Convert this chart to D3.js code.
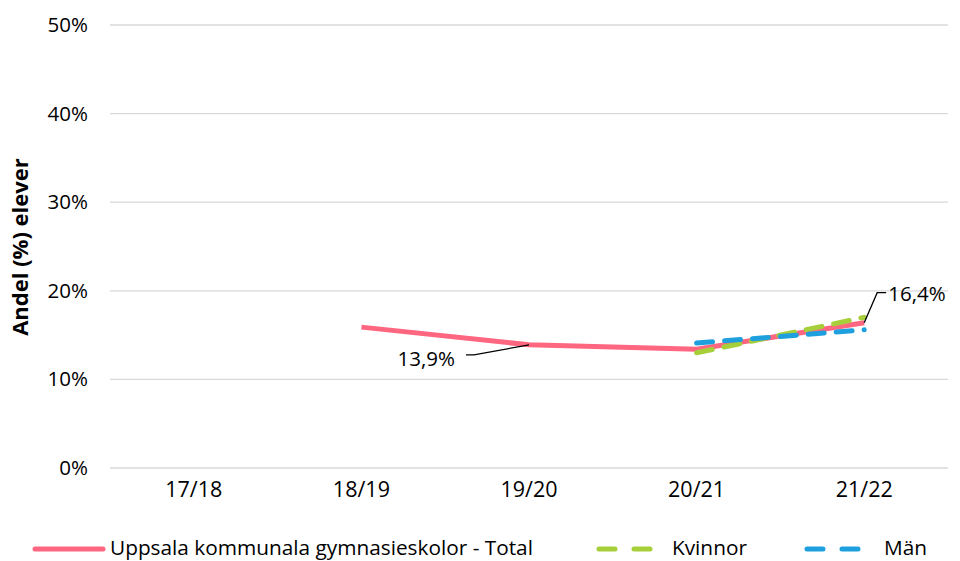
<!DOCTYPE html>
<html><head><meta charset="utf-8">
<script src="https://cdn.jsdelivr.net/npm/d3@7"></script>
<style>body{margin:0;background:#fff}svg{display:block}svg text{font-family:"Open Sans","Noto Sans",sans-serif}</style>
</head><body><svg id="c" width="960" height="561"></svg>
<script>
const categories = ["17/18","18/19","19/20","20/21","21/22"];
const totalValues = [null, 15.9, 13.9, 13.4, 16.4];
const kvinnorValues = [null, null, null, 13.0, 17.0];
const manValues = [null, null, null, 14.1, 15.6];
const yTicks = [0,10,20,30,40,50];
const seriesNames = ["Uppsala kommunala gymnasieskolor - Total","Kvinnor","Män"];

const FONT = '"Open Sans","Noto Sans",sans-serif';
const svg = d3.select("#c");
const m = {l:110, r:948, t:25, b:468};
const x = d3.scaleBand().domain(categories).range([m.l, m.r]);
const y = d3.scaleLinear().domain([0,50]).range([m.b, m.t]);
const cx = c => x(c) + x.bandwidth()/2;

// gridlines
svg.append("g").selectAll("line").data(yTicks).join("line")
  .attr("x1", m.l).attr("x2", m.r).attr("y1", d=>y(d)).attr("y2", d=>y(d))
  .attr("stroke", "#d9d9d9").attr("stroke-width", 1.3);

// y axis
const ya = svg.append("g").attr("transform", `translate(${m.l},0)`)
  .call(d3.axisLeft(y).tickValues(yTicks).tickFormat(d=>d+"%").tickSize(0).tickPadding(22));
ya.select(".domain").remove();
ya.attr("font-family", FONT).attr("font-size", 20.5);
ya.selectAll("text").attr("fill", "#000");

// x axis
const xa = svg.append("g").attr("transform", `translate(0,${m.b})`)
  .call(d3.axisBottom(x).tickSize(0).tickPadding(14));
xa.select(".domain").remove();
xa.attr("font-family", FONT).attr("font-size", 21.5);
xa.selectAll("text").attr("fill", "#000");

// y title
svg.append("text").attr("transform", `translate(28,247) rotate(-90)`)
  .attr("text-anchor", "middle").attr("font-weight", "bold").attr("font-size", 22)
  .text("Andel (%) elever");

const line = d3.line().defined(d=>d.v!=null).x(d=>cx(d.c)).y(d=>y(d.v));
const toPts = arr => categories.map((c,i)=>({c, v:arr[i]}));

svg.append("path").datum(toPts(totalValues)).attr("d", line)
  .attr("fill","none").attr("stroke","#ff6680").attr("stroke-width",5).attr("stroke-linejoin","round");
svg.append("path").datum(toPts(kvinnorValues)).attr("d", line)
  .attr("fill","none").attr("stroke","#a6cf3a").attr("stroke-width",5).attr("stroke-dasharray","16 12").attr("stroke-linecap","round");
svg.append("path").datum(toPts(manValues)).attr("d", line)
  .attr("fill","none").attr("stroke","#1fa0de").attr("stroke-width",5).attr("stroke-dasharray","16 12").attr("stroke-linecap","round");

// data labels
const fmt = v => d3.format(".1f")(v).replace(".", ",") + "%";
const p1 = {x: cx("19/20"), y: y(totalValues[2])};
svg.append("polyline").attr("points", `${p1.x},${p1.y} ${p1.x-55},${p1.y+10} ${p1.x-63},${p1.y+10}`)
  .attr("fill","none").attr("stroke","#000").attr("stroke-width",1.3);
svg.append("text").attr("x", p1.x-74).attr("y", p1.y+21).attr("text-anchor","end").attr("font-size",20.5).text(fmt(totalValues[2]));
const p2 = {x: cx("21/22"), y: y(totalValues[4])};
svg.append("polyline").attr("points", `${p2.x},${p2.y} ${p2.x+13},${p2.y-30} ${p2.x+22},${p2.y-30}`)
  .attr("fill","none").attr("stroke","#000").attr("stroke-width",1.3);
svg.append("text").attr("x", p2.x+24).attr("y", p2.y-22).attr("font-size",20.5).text(fmt(totalValues[4]));

// legend
const lg = svg.append("g").attr("font-size", 20.8);
lg.append("line").attr("x1",35).attr("x2",103).attr("y1",549).attr("y2",549).attr("stroke","#ff6680").attr("stroke-width",5).attr("stroke-linecap","round");
lg.append("text").attr("x",110).attr("y",555).text(seriesNames[0]);
lg.append("line").attr("x1",599).attr("x2",652).attr("y1",549).attr("y2",549).attr("stroke","#a6cf3a").attr("stroke-width",5).attr("stroke-dasharray","16 19").attr("stroke-linecap","round");
lg.append("text").attr("x",672).attr("y",555).text(seriesNames[1]);
lg.append("line").attr("x1",807).attr("x2",860).attr("y1",549).attr("y2",549).attr("stroke","#1fa0de").attr("stroke-width",5).attr("stroke-dasharray","16 19").attr("stroke-linecap","round");
lg.append("text").attr("x",884).attr("y",555).text(seriesNames[2]);
</script></body></html>
